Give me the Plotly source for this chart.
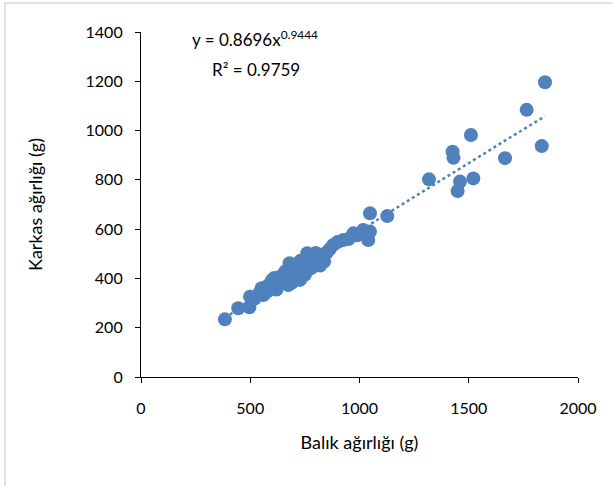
import plotly.graph_objects as go
import numpy as np

# Data
fish_weight = [384, 445, 496, 499, 520, 540, 552, 560, 568, 575, 582, 590, 598, 605, 612, 620,
               628, 636, 642, 650, 658, 665, 674, 680, 688, 697, 705, 712, 720, 728, 735, 742,
               750, 756, 761, 768, 775, 782, 789, 796, 805, 815, 825, 838, 850, 865, 880, 900,
               926, 950, 972, 990, 1017, 1035, 1040, 1048, 1048, 1127, 1318, 1426, 1430, 1449,
               1460, 1510, 1521, 1666, 1765, 1834, 1849, 610, 700, 760, 645, 585, 735, 670,
               660, 690, 730, 750, 800, 820, 600, 560, 620, 680]
carcass_weight = [234, 279, 283, 326, 318, 338, 360, 350, 362, 346, 372, 358, 368, 382, 370, 392,
                  380, 407, 395, 410, 388, 420, 373, 430, 415, 455, 425, 440, 418, 394, 450, 432,
                  470, 445, 502, 460, 440, 478, 448, 488, 470, 490, 480, 468, 505, 520, 536, 548,
                  556, 560, 583, 575, 597, 580, 556, 590, 664, 653, 802, 914, 890, 755,
                  793, 982, 806, 888, 1084, 937, 1196, 402, 445, 455, 400, 352, 420, 405,
                  428, 382, 472, 415, 503, 452, 393, 333, 355, 462]

# Power trendline coefficients (as printed on chart)
trend_a = 0.8696
trend_b = 0.9444

blue = "#4F81BD"

fig = go.Figure()
tx = np.linspace(min(fish_weight), max(fish_weight), 200)
ty = trend_a * tx ** trend_b
fig.add_trace(go.Scatter(
    x=tx, y=ty, mode="lines",
    line=dict(color=blue, width=2.5, dash="dot"),
    showlegend=False, hoverinfo="skip"))

fig.add_trace(go.Scatter(
    x=fish_weight, y=carcass_weight, mode="markers",
    marker=dict(color=blue, size=14, line=dict(width=0)),
    showlegend=False, hoverinfo="x+y"))

font_family = "Lato, 'Open Sans', sans-serif"

fig.update_layout(
    width=613, height=486,
    margin=dict(l=141, r=35, t=32, b=109),
    paper_bgcolor="white", plot_bgcolor="white",
    font=dict(family=font_family, size=16, color="black"),
    xaxis=dict(range=[0, 2000], tickvals=[0, 500, 1000, 1500, 2000],
               showgrid=False, zeroline=False, showline=True, linecolor="black",
               linewidth=1.2, ticks="outside", ticklen=5, tickcolor="black",
               ticklabelstandoff=12,
               tickfont=dict(size=16), title=dict(text="Balık ağırlığı (g)",
               font=dict(size=18), standoff=20)),
    yaxis=dict(range=[0, 1400], tickvals=[0, 200, 400, 600, 800, 1000, 1200, 1400],
               showgrid=False, zeroline=False, showline=True, linecolor="black",
               linewidth=1.2, ticks="outside", ticklen=5, tickcolor="black",
               ticklabelstandoff=9,
               tickfont=dict(size=16), title=dict(text="Karkas ağırlığı (g)",
               font=dict(size=18), standoff=38)),
    shapes=[dict(type="rect", xref="paper", yref="paper",
                 x0=-0.3112, x1=1.10, y0=-0.36, y1=1.084,
                 line=dict(color="#D9D9D9", width=1.5), layer="below")],
    annotations=[
        dict(x=521, y=1372, xref="x", yref="y", showarrow=False,
             text="y = 0.8696x<sup>0.9444</sup>", font=dict(size=17)),
        dict(x=528, y=1248, xref="x", yref="y", showarrow=False,
             text="R² = 0.9759", font=dict(size=17)),
    ],
)

fig.write_html("out.html")
